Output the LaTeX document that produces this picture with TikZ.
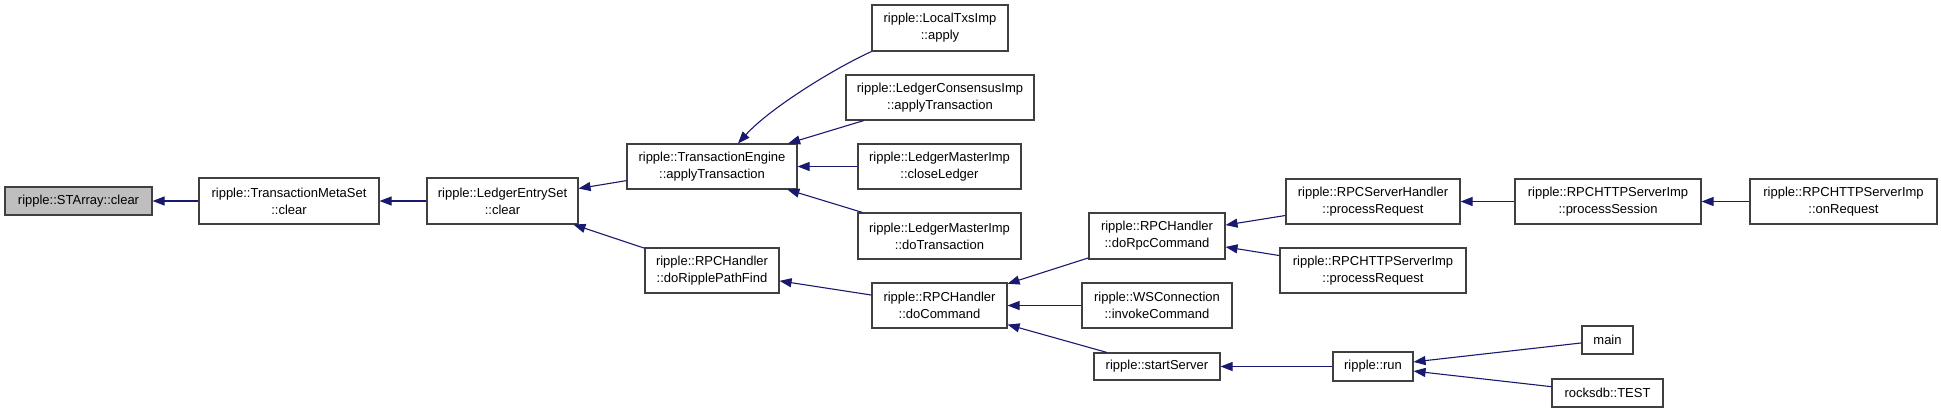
\documentclass[tikz,border=0pt]{standalone}
\usepackage{fontspec}
\setmainfont{Liberation Sans}
\usepackage{xcolor}
\usepackage{tikz}
\usetikzlibrary{arrows.meta}
\definecolor{EdgeBlue}{HTML}{191970}
\definecolor{BoxBorder}{HTML}{404040}
\definecolor{CurrentFill}{HTML}{BFBFBF}

\begin{document}
\begin{tikzpicture}[
	x=1pt, y=-1pt,
	box/.style={draw=BoxBorder, line width=1.1pt, fill=white, align=center, inner sep=0pt, font=\fontsize{13}{17}\selectfont},
	wh/.style 2 args={minimum width=#1pt, minimum height=#2pt},
	arrow/.style={-{Triangle[length=12pt, width=9pt]}, draw=EdgeBlue, line width=1.1pt}
]
\useasboundingbox (0,0) rectangle (1941,413);

\node[box, wh={147}{28}, fill=CurrentFill] (starray) at (78.5,201) {ripple::STArray::clear};
\node[box, wh={180}{46}] (metaset) at (289,201) {ripple::TransactionMetaSet\\::clear};
\node[box, wh={151}{46}] (entryset) at (502.5,201) {ripple::LedgerEntrySet\\::clear};
\node[box, wh={170}{45}] (txengine) at (712,166.5) {ripple::TransactionEngine\\::applyTransaction};
\node[box, wh={134}{45}] (pathfind) at (712,270.5) {ripple::RPCHandler\\::doRipplePathFind};
\node[box, wh={136}{46}] (localtxs) at (940,28) {ripple::LocalTxsImp\\::apply};
\node[box, wh={188}{45}] (consensus) at (940,97.5) {ripple::LedgerConsensusImp\\::applyTransaction};
\node[box, wh={163}{45}] (closeledger) at (939.5,166.5) {ripple::LedgerMasterImp\\::closeLedger};
\node[box, wh={163}{46}] (dotx) at (939.5,236) {ripple::LedgerMasterImp\\::doTransaction};
\node[box, wh={135}{45}] (docommand) at (939.5,305.5) {ripple::RPCHandler\\::doCommand};
\node[box, wh={136}{46}] (dorpc) at (1157,236) {ripple::RPCHandler\\::doRpcCommand};
\node[box, wh={150}{45}] (invoke) at (1157,305.5) {ripple::WSConnection\\::invokeCommand};
\node[box, wh={126}{27}] (startserver) at (1157,366.5) {ripple::startServer};
\node[box, wh={174}{45}] (serverhandler) at (1373,201.5) {ripple::RPCServerHandler\\::processRequest};
\node[box, wh={186}{45}] (httprequest) at (1373,270.5) {ripple::RPCHTTPServerImp\\::processRequest};
\node[box, wh={80}{29}] (run) at (1373,366.5) {ripple::run};
\node[box, wh={186}{45}] (session) at (1608,201.5) {ripple::RPCHTTPServerImp\\::processSession};
\node[box, wh={187}{45}] (onrequest) at (1843.5,201.5) {ripple::RPCHTTPServerImp\\::onRequest};
\node[box, wh={51}{28}] (main) at (1607.5,340) {main};
\node[box, wh={111}{28}] (rockstest) at (1607.5,393) {rocksdb::TEST};

\draw[arrow] (metaset) -- (starray);
\draw[arrow] (entryset) -- (metaset);
\draw[arrow] (txengine) -- (entryset);
\draw[arrow] (pathfind) -- (entryset);
\draw[arrow] (localtxs.south west) .. controls (835,68) and (770,108) .. ([xshift=26pt]txengine.north);
\draw[arrow] (consensus) -- (txengine);
\draw[arrow] (closeledger) -- (txengine);
\draw[arrow] (dotx) -- (txengine);
\draw[arrow] (docommand) -- (pathfind);
\draw[arrow] (dorpc) -- (docommand);
\draw[arrow] (invoke) -- (docommand);
\draw[arrow] (startserver) -- (docommand);
\draw[arrow] (serverhandler) -- (dorpc);
\draw[arrow] (httprequest) -- (dorpc);
\draw[arrow] (session) -- (serverhandler);
\draw[arrow] (onrequest) -- (session);
\draw[arrow] (run) -- (startserver);
\draw[arrow] (main) -- (run);
\draw[arrow] (rockstest) -- (run);
\end{tikzpicture}
\end{document}
